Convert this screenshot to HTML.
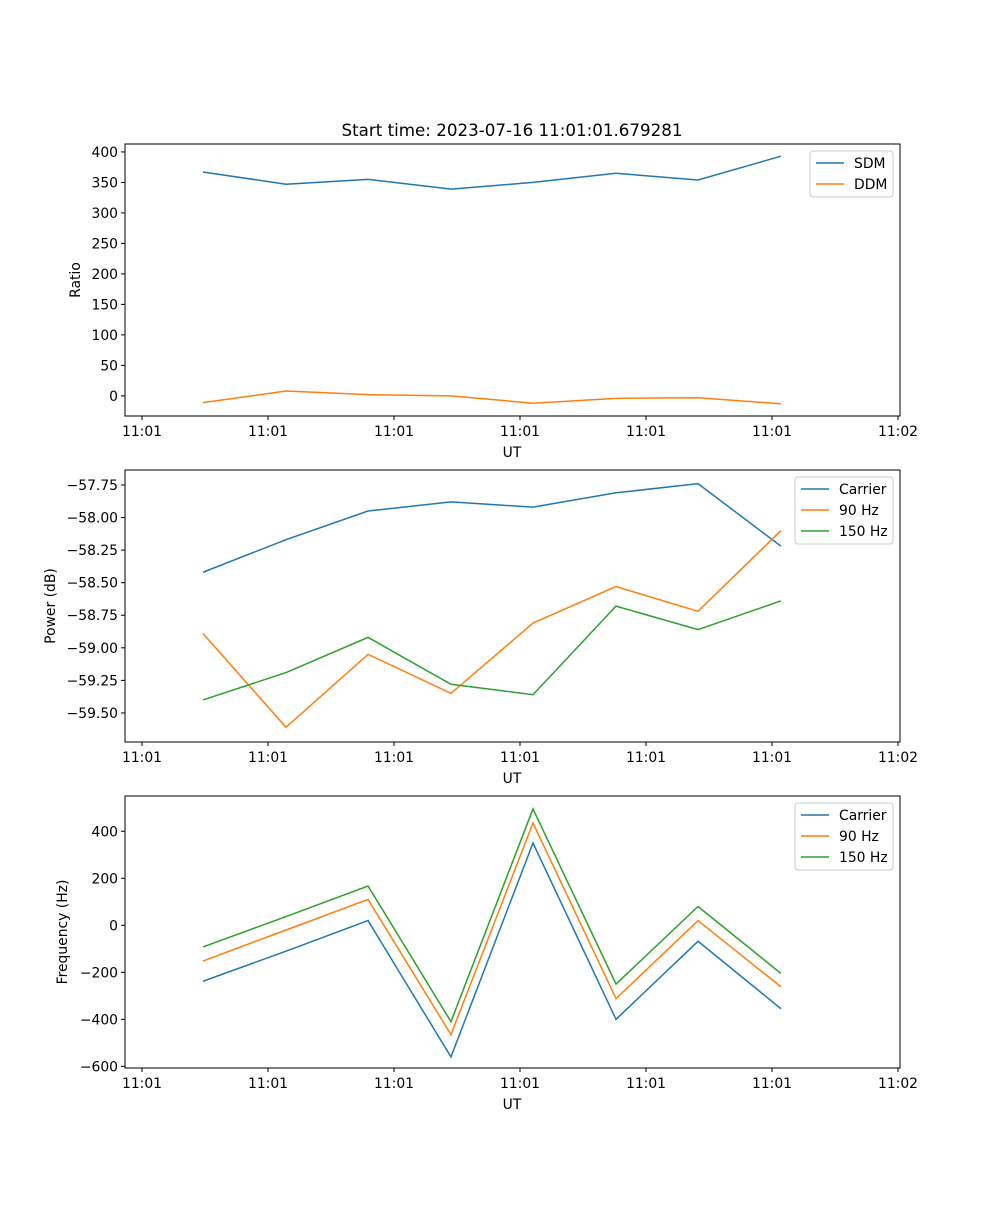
<!DOCTYPE html>
<html><head><meta charset="utf-8"><style>
body{margin:0;background:#fff;}
svg text{font-family:"DejaVu Sans","Liberation Sans",sans-serif;}
</style></head><body>
<svg id="fig" width="1000" height="1200" xmlns="http://www.w3.org/2000/svg">
<rect width="1000" height="1200" fill="#fff"/>
<text x="512" y="136" font-size="16.7" text-anchor="middle">Start time: 2023-07-16 11:01:01.679281</text>
</svg>
<script>
const xTicks=["11:01","11:01","11:01","11:01","11:01","11:01","11:02"];
const times=[0.484,1.143,1.794,2.452,3.103,3.762,4.413,5.071];
const sdm=[367,347,355,339,350,365,354,393];
const ddm=[-11,8,2,0,-12,-4,-3,-13];
const pCarrier=[-58.42,-58.17,-57.95,-57.88,-57.92,-57.81,-57.74,-58.22];
const p90=[-58.89,-59.61,-59.05,-59.35,-58.81,-58.53,-58.72,-58.10];
const p150=[-59.40,-59.19,-58.92,-59.28,-59.36,-58.68,-58.86,-58.64];
const fCarrier=[-238,-110,20,-560,350,-400,-68,-355];
const f90=[-152,-20,110,-465,435,-312,20,-262];
const f150=[-92,37,167,-410,495,-250,80,-205];
const ticks1=[0,50,100,150,200,250,300,350,400];
const ticks2=[-59.5,-59.25,-59,-58.75,-58.5,-58.25,-58,-57.75];
const ticks3=[-600,-400,-200,0,200,400];

const NS="http://www.w3.org/2000/svg";
const svg=document.getElementById('fig');
const L=125,R=900;
function xs(t){return 142+t*126;}
function mk(tag,attrs,parent){const e=document.createElementNS(NS,tag);for(const k in attrs)e.setAttribute(k,attrs[k]);(parent||svg).appendChild(e);return e;}
function fmt(v,dec){let s=v.toFixed(dec);return s.replace('-','\u2212');}
function panel(name,top,bot,y0,y1,ticks,dec,ylabel,lx,series,legX){
  const g=mk('g',{});
  
  
  const ys=v=>bot-(v-y0)/(y1-y0)*(bot-top);
  ticks.forEach(v=>{const y=ys(v);
    const l=mk('line',{x1:L-4,x2:L,y1:y,y2:y,stroke:'#000','stroke-width':1},g);
    
    const t=mk('text',{x:L-7,y:y+5,'font-size':13.9,'text-anchor':'end'},g);t.textContent=fmt(v,dec);
    });
  xTicks.forEach((s,i)=>{const x=xs(i);
    const l=mk('line',{x1:x,x2:x,y1:bot,y2:bot+4,stroke:'#000','stroke-width':1},g);
    
    const t=mk('text',{x:x,y:bot+20,'font-size':13.9,'text-anchor':'middle'},g);t.textContent=s;
    });
  const xl=mk('text',{x:512,y:bot+41,'font-size':13.9,'text-anchor':'middle'},g);xl.textContent='UT';
  
  const cy=(top+bot)/2;
  const yl=mk('text',{x:lx,y:cy,'font-size':13.9,'text-anchor':'middle',transform:`rotate(-90 ${lx} ${cy})`},g);yl.textContent=ylabel;
  
  series.forEach(s=>{
    const p=mk('polyline',{points:s.v.map((v,i)=>xs(times[i])+','+ys(v)).join(' '),fill:'none',stroke:s.c,'stroke-width':1.5},g);
    
    });
  const fr=mk('rect',{x:L,y:top,width:R-L,height:bot-top,fill:'none',stroke:'#000','stroke-width':1},g);
  
  const lg=mk('g',{},g);
  
  mk('rect',{x:legX,y:top+7,width:893-legX,height:series.length*21+4,rx:3,fill:'#fff',stroke:'#ccc'},lg);
  series.forEach((s,i)=>{const y=top+19+i*21;
    mk('line',{x1:legX+6,x2:legX+34,y1:y,y2:y,stroke:s.c,'stroke-width':1.5},lg);
    const t=mk('text',{x:legX+44,y:y+5,'font-size':13.9},lg);t.textContent=s.n;
    });
}
const B='#1f77b4',O='#ff7f0e',G='#2ca02c';
panel('ratio-panel',144,416,-33,413,ticks1,0,'Ratio',80,[{n:'SDM',v:sdm,c:B},{n:'DDM',v:ddm,c:O}],810);
panel('power-panel',470,742,-59.723,-57.635,ticks2,2,'Power (dB)',55,[{n:'Carrier',v:pCarrier,c:B},{n:'90 Hz',v:p90,c:O},{n:'150 Hz',v:p150,c:G}],795);
panel('frequency-panel',796,1068,-607,550,ticks3,0,'Frequency (Hz)',67,[{n:'Carrier',v:fCarrier,c:B},{n:'90 Hz',v:f90,c:O},{n:'150 Hz',v:f150,c:G}],795);
</script>
</body></html>
